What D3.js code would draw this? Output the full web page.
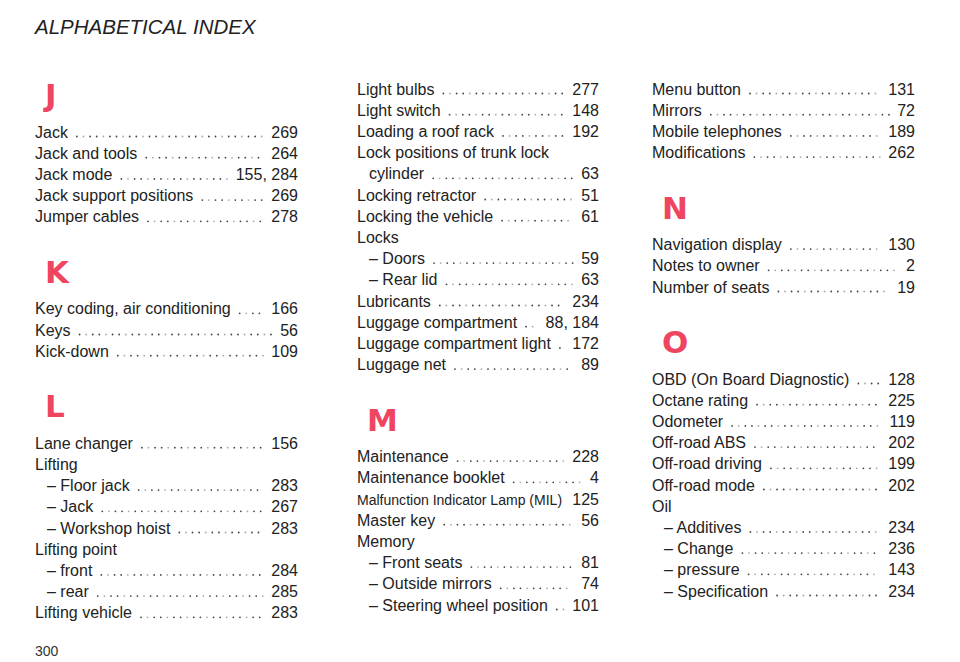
<!DOCTYPE html>
<html><head><meta charset="utf-8">
<script src="https://cdn.jsdelivr.net/npm/d3@7"></script>
<style>body{margin:0;background:#fff}svg{display:block}</style>
</head><body>
<script>
// Each entry: [label, page, indent]; a heading is ["#J"]
const column1 = [["#J"],["Jack","269",0],["Jack and tools","264",0],["Jack mode","155, 284",0],["Jack support positions","269",0],["Jumper cables","278",0],
 ["#K"],["Key coding, air conditioning","166",0],["Keys","56",0],["Kick-down","109",0],
 ["#L"],["Lane changer","156",0],["Lifting","",0],["– Floor jack","283",1],["– Jack","267",1],["– Workshop hoist","283",1],["Lifting point","",0],["– front","284",1],["– rear","285",1],["Lifting vehicle","283",0]];
const column2 = [["Light bulbs","277",0],["Light switch","148",0],["Loading a roof rack","192",0],["Lock positions of trunk lock","",0],["cylinder","63",1],["Locking retractor","51",0],["Locking the vehicle","61",0],["Locks","",0],["– Doors","59",1],["– Rear lid","63",1],["Lubricants","234",0],["Luggage compartment","88, 184",0],["Luggage compartment light","172",0],["Luggage net","89",0],
 ["#M"],["Maintenance","228",0],["Maintenance booklet","4",0],["Malfunction Indicator Lamp (MIL)","125",0],["Master key","56",0],["Memory","",0],["– Front seats","81",1],["– Outside mirrors","74",1],["– Steering wheel position","101",1]];
const column3 = [["Menu button","131",0],["Mirrors","72",0],["Mobile telephones","189",0],["Modifications","262",0],
 ["#N"],["Navigation display","130",0],["Notes to owner","2",0],["Number of seats","19",0],
 ["#O"],["OBD (On Board Diagnostic)","128",0],["Octane rating","225",0],["Odometer","119",0],["Off-road ABS","202",0],["Off-road driving","199",0],["Off-road mode","202",0],["Oil","",0],["– Additives","234",1],["– Change","236",1],["– pressure","143",1],["– Specification","234",1]];
const title = "ALPHABETICAL INDEX";
const pageNumber = "300";

const W=960,H=662;
const svg=d3.select("body").append("svg").attr("width",W).attr("height",H);
const font="'Liberation Sans', Arial, sans-serif";
svg.append("text").attr("x",35).attr("y",34).text(title)
  .attr("font-family",font).attr("font-style","italic").attr("font-size",20.5).attr("fill","#222");
const grad=svg.append("defs").append("linearGradient").attr("id","g");
grad.append("stop").attr("offset","0").attr("stop-color","#e85a70");
grad.append("stop").attr("offset","1").attr("stop-color","#e9a0ad");
svg.append("line").attr("x1",262).attr("x2",940).attr("y1",25).attr("y2",25).attr("stroke","url(#g)").attr("stroke-width",1.2);
svg.append("text").attr("x",35).attr("y",656).text(pageNumber).attr("font-family",font).attr("font-size",14).attr("fill","#333");

const cols=[{data:column1,x0:35,x1:298,start:94},{data:column2,x0:357,x1:599,start:89},{data:column3,x0:652,x1:915,start:89}];
const LS=21.2, FS=16;
cols.forEach(c=>{
  let y=null, prevHead=false;
  const rows=c.data.map(d=>{
    const head=d[0].startsWith("#");
    if(y===null) y=c.start;
    else if(head) y+=54;
    else if(prevHead) y+=38;
    else y+=LS;
    prevHead=head;
    return {d,head,y};
  });
  const g=svg.append("g");
  rows.forEach(r=>{
    if(r.head){
      g.append("text").attr("x",c.x0+10).attr("y",r.y+12).text(r.d[0].slice(1))
        .attr("font-family","'DejaVu Sans', Arial, sans-serif").attr("font-weight","bold").attr("font-size",31).attr("fill","#ef4560");
      return;
    }
    const [label,page,ind]=r.d;
    const xl=c.x0+(ind?12:0);
    const t=g.append("text").attr("x",xl).attr("y",r.y+5.5).text(label)
      .attr("font-family",font).attr("font-size",FS).attr("fill","#222");
    if(page){
      const p=g.append("text").attr("x",c.x1).attr("y",r.y+5.5).attr("text-anchor","end").text(page)
        .attr("font-family",font).attr("font-size",FS).attr("fill","#222");
      const pw=p.node().getComputedTextLength();
      let tw=t.node().getComputedTextLength();
      const avail=c.x1-pw-10-xl;
      if(tw>avail){ t.attr("font-size",FS*avail/tw); tw=t.node().getComputedTextLength(); }
      const a=xl+tw+9, b=c.x1-pw-8;
      const dots=d3.range(a,b,6.6);
      g.selectAll(null).data(dots).enter().append("circle").attr("cx",x=>x).attr("cy",r.y+4.5).attr("r",0.9)
        .attr("fill",(x,i)=>i%3===1?"#aaa":"#444");
    }
  });
});
</script>
</body></html>
